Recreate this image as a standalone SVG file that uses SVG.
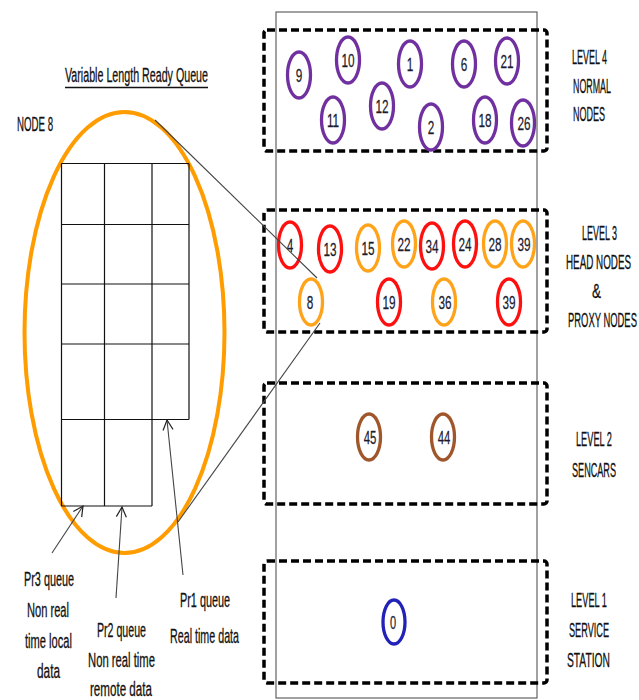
<svg xmlns="http://www.w3.org/2000/svg" width="639" height="700" viewBox="0 0 639 700">
  <style>
    .lbl { font-family: "Liberation Sans", Arial, sans-serif; font-size: 19.5px; fill: #111; stroke: #111; stroke-width: 0.3; }
    .num { font-family: "Liberation Sans", Arial, sans-serif; font-size: 19px; fill: #1b1b2f; text-anchor: middle; stroke: #1b1b2f; stroke-width: 0.25; }
    .lvl { fill: none; stroke: #000; stroke-width: 3.5; stroke-dasharray: 8 4; }
    .purple { fill: #fff; stroke: #7030A0; stroke-width: 3.3; }
    .red { fill: #fff; stroke: #FF1010; stroke-width: 3.3; }
    .orange { fill: #fff; stroke: #FFA31A; stroke-width: 3.3; }
    .brown { fill: #fff; stroke: #A0562B; stroke-width: 3.3; }
    .blue { fill: #fff; stroke: #2222B8; stroke-width: 3.3; }
    .grid { stroke: #111; stroke-width: 1.2; fill: none; }
    .thin { stroke: #444; stroke-width: 1.1; fill: none; }
  </style>
  <defs>
    <marker id="openArrow" viewBox="0 0 12 12" refX="11" refY="6" markerWidth="12" markerHeight="12" markerUnits="userSpaceOnUse" orient="auto">
      <path d="M1,1 L11,6 L1,11" fill="none" stroke="#222" stroke-width="1.2"/>
    </marker>
  </defs>
  <rect width="639" height="700" fill="#fff"/>

  <!-- column outline -->
  <rect x="276" y="12" width="261" height="686" fill="none" stroke="#555" stroke-width="1.1"/>

  <!-- level bands (condensed labels: scale on x, textLength in local units) -->
  <g id="level4">
    <rect class="lvl" x="264" y="30" width="283" height="121" rx="3"/>
    <text class="lbl" transform="translate(572 64) scale(0.455 1)" textLength="77" lengthAdjust="spacingAndGlyphs">LEVEL 4</text>
    <text class="lbl" transform="translate(573 93) scale(0.456 1)" textLength="83.3" lengthAdjust="spacingAndGlyphs">NORMAL</text>
    <text class="lbl" transform="translate(573 121) scale(0.462 1)" textLength="69.3" lengthAdjust="spacingAndGlyphs">NODES</text>
  </g>
  <g id="level3">
    <rect class="lvl" x="264" y="210" width="283" height="122" rx="3"/>
    <text class="lbl" transform="translate(582 240) scale(0.455 1)" textLength="77" lengthAdjust="spacingAndGlyphs">LEVEL 3</text>
    <text class="lbl" transform="translate(566 269) scale(0.504 1)" textLength="129" lengthAdjust="spacingAndGlyphs">HEAD NODES</text>
    <text class="lbl" transform="translate(592 298) scale(0.69 1)" textLength="13" lengthAdjust="spacingAndGlyphs">&amp;</text>
    <text class="lbl" transform="translate(568 327) scale(0.482 1)" textLength="143" lengthAdjust="spacingAndGlyphs">PROXY NODES</text>
  </g>
  <g id="level2">
    <rect class="lvl" x="264" y="383" width="283" height="121" rx="3"/>
    <text class="lbl" transform="translate(576 446) scale(0.466 1)" textLength="77.2" lengthAdjust="spacingAndGlyphs">LEVEL 2</text>
    <text class="lbl" transform="translate(572 477) scale(0.467 1)" textLength="94.2" lengthAdjust="spacingAndGlyphs">SENCARS</text>
  </g>
  <g id="level1">
    <rect class="lvl" x="264" y="561" width="283" height="122" rx="3"/>
    <text class="lbl" transform="translate(571 607) scale(0.468 1)" textLength="76.9" lengthAdjust="spacingAndGlyphs">LEVEL 1</text>
    <text class="lbl" transform="translate(569 637) scale(0.467 1)" textLength="85.7" lengthAdjust="spacingAndGlyphs">SERVICE</text>
    <text class="lbl" transform="translate(567 667) scale(0.509 1)" textLength="84.5" lengthAdjust="spacingAndGlyphs">STATION</text>
  </g>

  <!-- normal nodes -->
  <g id="n9"><ellipse class="purple" cx="299" cy="75" rx="11.5" ry="23"/><text class="num" transform="translate(299 82) scale(0.62 1)">9</text></g>
  <g id="n10"><ellipse class="purple" cx="348" cy="60" rx="11.5" ry="23"/><text class="num" transform="translate(348 67) scale(0.62 1)">10</text></g>
  <g id="n1"><ellipse class="purple" cx="410" cy="64" rx="11.5" ry="23"/><text class="num" transform="translate(410 71) scale(0.62 1)">1</text></g>
  <g id="n6"><ellipse class="purple" cx="464" cy="64" rx="11.5" ry="23"/><text class="num" transform="translate(464 71) scale(0.62 1)">6</text></g>
  <g id="n21"><ellipse class="purple" cx="507" cy="61" rx="11.5" ry="23"/><text class="num" transform="translate(507 68) scale(0.62 1)">21</text></g>
  <g id="n11"><ellipse class="purple" cx="333" cy="120" rx="11.5" ry="23"/><text class="num" transform="translate(333 127) scale(0.62 1)">11</text></g>
  <g id="n12"><ellipse class="purple" cx="382" cy="106" rx="11.5" ry="23"/><text class="num" transform="translate(382 113) scale(0.62 1)">12</text></g>
  <g id="n2"><ellipse class="purple" cx="431" cy="127" rx="11.5" ry="23"/><text class="num" transform="translate(431 134) scale(0.62 1)">2</text></g>
  <g id="n18"><ellipse class="purple" cx="485" cy="120" rx="11.5" ry="23"/><text class="num" transform="translate(485 127) scale(0.62 1)">18</text></g>
  <g id="n26"><ellipse class="purple" cx="523" cy="123" rx="11.5" ry="23"/><text class="num" transform="translate(524 130) scale(0.62 1)">26</text></g>

  <!-- head and proxy nodes -->
  <g id="n4"><ellipse class="red" cx="290" cy="245" rx="11.5" ry="23"/><text class="num" transform="translate(290 252) scale(0.62 1)">4</text></g>
  <g id="n13"><ellipse class="red" cx="330" cy="249" rx="11.5" ry="23"/><text class="num" transform="translate(330 256) scale(0.62 1)">13</text></g>
  <g id="n15"><ellipse class="orange" cx="368" cy="248" rx="11.5" ry="23"/><text class="num" transform="translate(368 255) scale(0.62 1)">15</text></g>
  <g id="n22"><ellipse class="orange" cx="404" cy="244" rx="11.5" ry="23"/><text class="num" transform="translate(404 251) scale(0.62 1)">22</text></g>
  <g id="n34"><ellipse class="red" cx="432" cy="246" rx="11.5" ry="23"/><text class="num" transform="translate(432 253) scale(0.62 1)">34</text></g>
  <g id="n24"><ellipse class="red" cx="465" cy="244" rx="11.5" ry="23"/><text class="num" transform="translate(465 251) scale(0.62 1)">24</text></g>
  <g id="n28"><ellipse class="orange" cx="495" cy="244" rx="11.5" ry="23"/><text class="num" transform="translate(495 251) scale(0.62 1)">28</text></g>
  <g id="n39a"><ellipse class="orange" cx="523" cy="244" rx="11.5" ry="23"/><text class="num" transform="translate(524 251) scale(0.62 1)">39</text></g>
  <g id="n8"><ellipse class="orange" cx="311" cy="302" rx="11.5" ry="23"/><text class="num" transform="translate(310 309) scale(0.62 1)">8</text></g>
  <g id="n19"><ellipse class="red" cx="389" cy="302" rx="11.5" ry="23"/><text class="num" transform="translate(389 309) scale(0.62 1)">19</text></g>
  <g id="n36"><ellipse class="orange" cx="444" cy="302" rx="11.5" ry="23"/><text class="num" transform="translate(445 309) scale(0.62 1)">36</text></g>
  <g id="n39b"><ellipse class="red" cx="509" cy="302" rx="11.5" ry="23"/><text class="num" transform="translate(509 309) scale(0.62 1)">39</text></g>

  <!-- sencars -->
  <g id="n45"><ellipse class="brown" cx="369" cy="437" rx="11.5" ry="23"/><text class="num" transform="translate(370 444) scale(0.6 1)">45</text></g>
  <g id="n44"><ellipse class="brown" cx="443" cy="437" rx="11.5" ry="23"/><text class="num" transform="translate(444 444) scale(0.6 1)">44</text></g>

  <!-- service station -->
  <g id="n0"><ellipse class="blue" cx="394" cy="622" rx="11" ry="22"/><text class="num" transform="translate(393 629) scale(0.58 1)">0</text></g>

  <!-- ready queue of node 8 -->
  <g id="queue">
    <text class="lbl" transform="translate(65 82) scale(0.545 1)" textLength="262.4" lengthAdjust="spacingAndGlyphs">Variable Length Ready Queue</text>
    <line x1="65" y1="87.5" x2="208" y2="87.5" stroke="#111" stroke-width="1.5"/>
    <text class="lbl" transform="translate(17 131) scale(0.496 1)" textLength="72.6" lengthAdjust="spacingAndGlyphs">NODE 8</text>
    <ellipse cx="124.5" cy="332.5" rx="100" ry="220.5" fill="none" stroke="#FF9C00" stroke-width="4"/>
    <path class="grid" d="M61.5,163.5 H189 M61.5,224.5 H189 M61.5,284 H189 M61.5,344 H189 M61.5,419.5 H189 M61.5,506 H152
                          M61.5,163.5 V506 M104.5,163.5 V506 M152,163.5 V506 M189,163.5 V419.5"/>
    <text class="lbl" transform="translate(24 586) scale(0.562 1)" textLength="89" lengthAdjust="spacingAndGlyphs">Pr3 queue</text>
    <text class="lbl" transform="translate(27 617) scale(0.57 1)" textLength="73.7" lengthAdjust="spacingAndGlyphs">Non real</text>
    <text class="lbl" transform="translate(25 648) scale(0.571 1)" textLength="82.3" lengthAdjust="spacingAndGlyphs">time local</text>
    <text class="lbl" transform="translate(37 678) scale(0.606 1)" textLength="38" lengthAdjust="spacingAndGlyphs">data</text>
    <text class="lbl" transform="translate(97 637) scale(0.551 1)" textLength="88.9" lengthAdjust="spacingAndGlyphs">Pr2 queue</text>
    <text class="lbl" transform="translate(88 667) scale(0.578 1)" textLength="115.9" lengthAdjust="spacingAndGlyphs">Non real time</text>
    <text class="lbl" transform="translate(90 696) scale(0.596 1)" textLength="104" lengthAdjust="spacingAndGlyphs">remote data</text>
    <text class="lbl" transform="translate(180 607) scale(0.562 1)" textLength="89" lengthAdjust="spacingAndGlyphs">Pr1 queue</text>
    <text class="lbl" transform="translate(170 643) scale(0.549 1)" textLength="125.7" lengthAdjust="spacingAndGlyphs">Real time data</text>
  </g>

  <!-- connectors -->
  <g id="connectors">
    <line class="thin" x1="155" y1="120" x2="317" y2="278"/>
    <line class="thin" x1="320" y1="323" x2="178" y2="522"/>
    <line class="thin" x1="183" y1="575" x2="167" y2="420" marker-end="url(#openArrow)"/>
    <line class="thin" x1="116" y1="598" x2="122" y2="507" marker-end="url(#openArrow)"/>
    <line class="thin" x1="52" y1="553" x2="83" y2="506" marker-end="url(#openArrow)"/>
  </g>
</svg>
